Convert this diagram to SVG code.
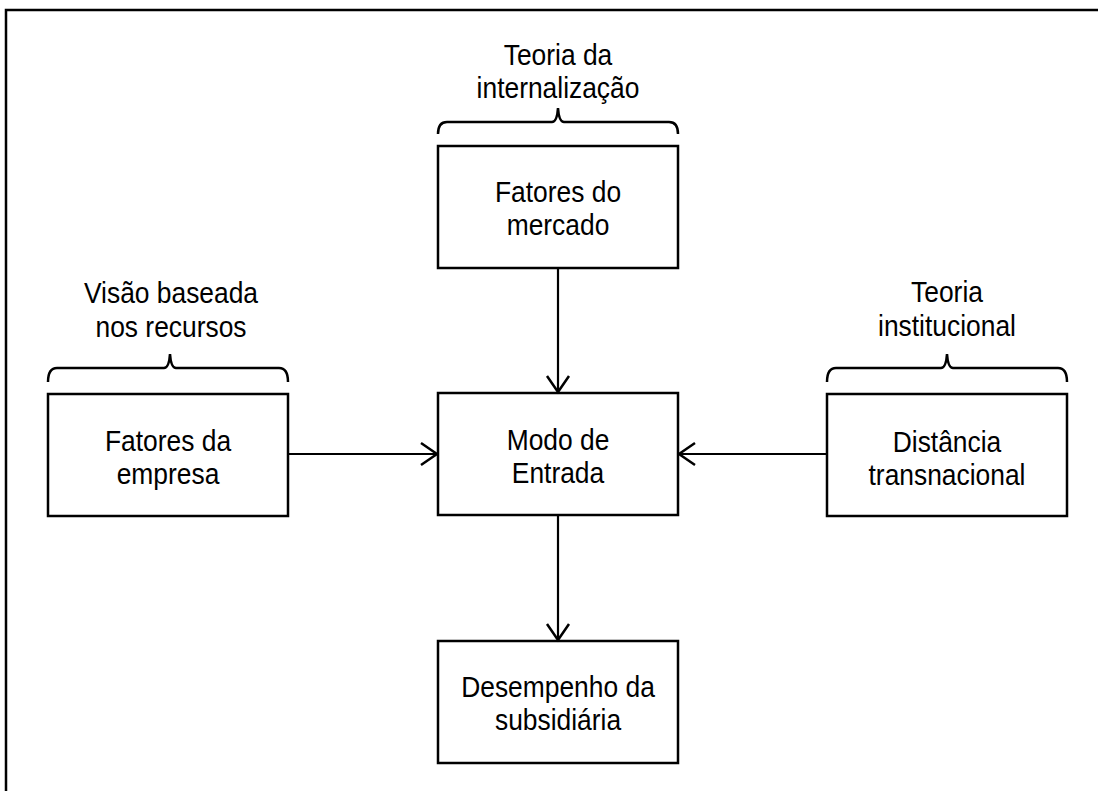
<svg xmlns="http://www.w3.org/2000/svg" width="1098" height="791" viewBox="0 0 1098 791">
<style>
.box{fill:#fff;stroke:#000;stroke-width:2.5}
.frame{fill:none;stroke:#000;stroke-width:2.5}
.conn{fill:none;stroke:#000;stroke-width:2.2}
.brace{fill:none;stroke:#000;stroke-width:2.5}
text{font-family:"Liberation Sans",Arial,sans-serif;font-size:29px;fill:#000;text-anchor:middle}
</style>
<defs>
<marker id="arr" markerUnits="userSpaceOnUse" markerWidth="40" markerHeight="40" viewBox="-20 -20 40 40" refX="0" refY="0" orient="auto" overflow="visible">
<path d="M-16,-11 L0,0 L-16,11" fill="none" stroke="#000" stroke-width="2.5" stroke-linejoin="miter"/>
</marker>
</defs>
<rect width="1098" height="791" fill="#fff"/>
<path class="frame" d="M6,791 L6,10 L1098,10"/>

<g id="label-internalizacao">
<path class="brace" d="M438,134 Q438,122 447,122 L552,122 Q557,122 558,108 Q559,122 564,122 L669,122 Q678,122 678,134"/>
<text transform="translate(558 65) scale(0.91 1)"><tspan x="0" y="0">Teoria da</tspan><tspan x="0" y="33">internalização</tspan></text>
</g>

<g id="label-recursos">
<path class="brace" d="M48,382 Q48,368 57,368 L164,368 Q169,368 170,354 Q171,368 176,368 L279,368 Q288,368 288,382"/>
<text transform="translate(171 303) scale(0.91 1)"><tspan x="0" y="0">Visão baseada</tspan><tspan x="0" y="34">nos recursos</tspan></text>
</g>

<g id="label-institucional">
<path class="brace" d="M827,382 Q827,368 836,368 L941,368 Q946,368 947,354 Q948,368 953,368 L1058,368 Q1067,368 1067,382"/>
<text transform="translate(947 302) scale(0.91 1)"><tspan x="0" y="0">Teoria</tspan><tspan x="0" y="34">institucional</tspan></text>
</g>

<g id="node-mercado">
<rect class="box" x="438" y="146" width="240" height="122"/>
<text transform="translate(558 202) scale(0.91 1)"><tspan x="0" y="0">Fatores do</tspan><tspan x="0" y="33">mercado</tspan></text>
</g>

<g id="node-modo">
<rect class="box" x="438" y="393" width="240" height="122"/>
<text transform="translate(558 450) scale(0.91 1)"><tspan x="0" y="0">Modo de</tspan><tspan x="0" y="33">Entrada</tspan></text>
</g>

<g id="node-empresa">
<rect class="box" x="48" y="394" width="240" height="122"/>
<text transform="translate(168 451) scale(0.91 1)"><tspan x="0" y="0">Fatores da</tspan><tspan x="0" y="33">empresa</tspan></text>
</g>

<g id="node-distancia">
<rect class="box" x="827" y="394" width="240" height="122"/>
<text transform="translate(947 452) scale(0.91 1)"><tspan x="0" y="0">Distância</tspan><tspan x="0" y="33">transnacional</tspan></text>
</g>

<g id="node-desempenho">
<rect class="box" x="438" y="641" width="240" height="122"/>
<text transform="translate(558 697) scale(0.91 1)"><tspan x="0" y="0">Desempenho da</tspan><tspan x="0" y="33">subsidiária</tspan></text>
</g>

<g id="connectors">
<line class="conn" x1="558" y1="268" x2="558" y2="392" marker-end="url(#arr)"/>
<line class="conn" x1="288" y1="454" x2="437" y2="454" marker-end="url(#arr)"/>
<line class="conn" x1="827" y1="454" x2="679" y2="454" marker-end="url(#arr)"/>
<line class="conn" x1="558" y1="515" x2="558" y2="640" marker-end="url(#arr)"/>
</g>
</svg>
